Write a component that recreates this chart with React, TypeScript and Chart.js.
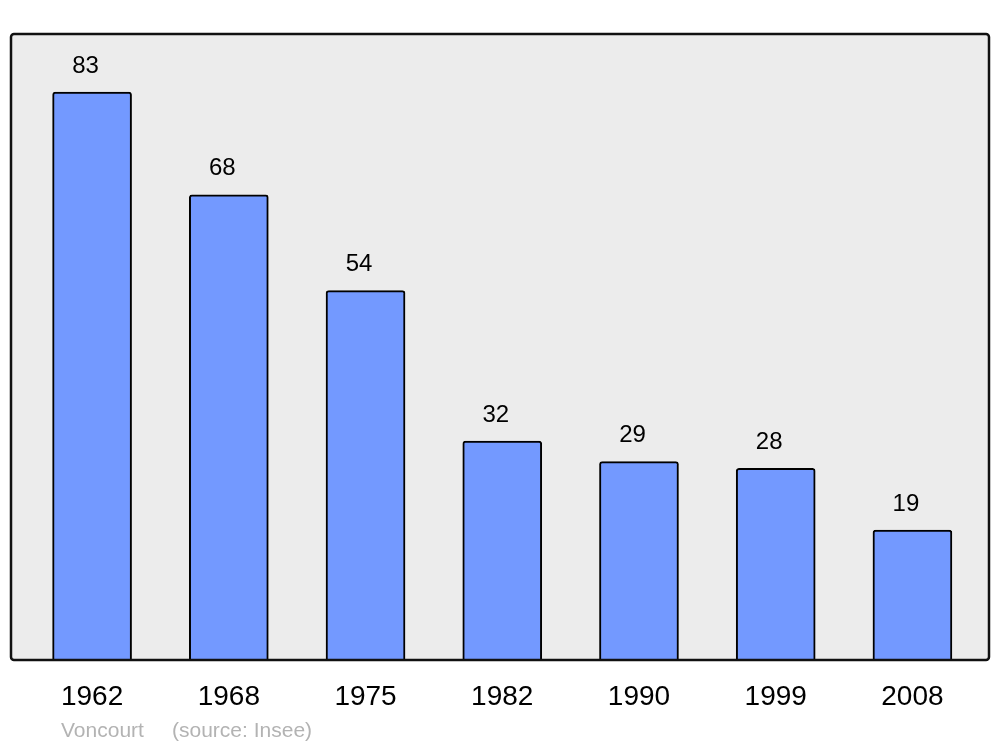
import React, { useEffect, useRef } from "react";
import { Chart, registerables } from "chart.js";

Chart.register(...registerables);

const years = ["1962", "1968", "1975", "1982", "1990", "1999", "2008"];
const population = [83, 68, 54, 32, 29, 28, 19];
const place = "Voncourt";
const source = "(source: Insee)";

const FONT = "'Liberation Sans', Arial, sans-serif";

const framePlugin = {
  id: "frame",
  beforeDatasetsDraw(chart: any) {
    const { ctx, chartArea: a } = chart;
    ctx.save();
    ctx.beginPath();
    ctx.roundRect(a.left, a.top, a.right - a.left, a.bottom - a.top, 3);
    ctx.fillStyle = "#ececec";
    ctx.fill();
    ctx.restore();
  },
  afterDatasetsDraw(chart: any) {
    const { ctx, chartArea: a } = chart;
    ctx.save();
    ctx.beginPath();
    ctx.roundRect(a.left, a.top, a.right - a.left, a.bottom - a.top, 3);
    ctx.lineWidth = 2.5;
    ctx.strokeStyle = "#111";
    ctx.stroke();
    const meta = chart.getDatasetMeta(0);
    ctx.fillStyle = "#000";
    ctx.font = `24px ${FONT}`;
    ctx.textAlign = "center";
    ctx.textBaseline = "alphabetic";
    meta.data.forEach((bar: any, i: number) => {
      ctx.fillText(String(population[i]), bar.x - 6.5, bar.y - 19.5);
    });
    ctx.fillStyle = "#b3b3b3";
    ctx.font = `21px ${FONT}`;
    ctx.textAlign = "left";
    ctx.fillText(place, 61, 737);
    ctx.fillText(source, 172, 737);
    ctx.restore();
  },
};

export default function App() {
  const ref = useRef<HTMLCanvasElement>(null);
  useEffect(() => {
    if (!ref.current) return;
    const chart = new Chart(ref.current, {
      type: "bar",
      data: {
        datasets: [
          {
            data: population.map((v, i) => ({ x: i, y: v })),
            backgroundColor: "#7399ff",
            borderColor: "#000",
            borderWidth: 2,
            borderRadius: { topLeft: 3, topRight: 3, bottomLeft: 0, bottomRight: 0 },
            borderSkipped: "bottom",
            barThickness: 79,
          },
        ],
      },
      options: {
        animation: false,
        responsive: false,
        maintainAspectRatio: false,
        layout: { padding: { left: 11, right: 11, top: 34, bottom: 0 } },
        plugins: { legend: { display: false }, tooltip: { enabled: false } },
        scales: {
          x: {
            type: "linear",
            offset: false,
            min: -0.593,
            max: 6.56,
            grid: { display: false, drawTicks: false },
            border: { display: false },
            afterBuildTicks: (s: any) => {
              s.ticks = years.map((_, i) => ({ value: i }));
            },
            afterFit: (s: any) => {
              s.height = 87;
            },
            ticks: {
              autoSkip: false,
              maxRotation: 0,
              padding: 20,
              color: "#000",
              font: { family: FONT, size: 28 },
              callback: (v: any) => years[Math.round(Number(v))] ?? "",
            },
          },
          y: {
            display: false,
            min: 0,
            max: 91.5,
          },
        },
      },
      plugins: [framePlugin],
    });
    return () => chart.destroy();
  }, []);
  return (
    <div style={{ position: "fixed", left: 0, top: 0, width: 1000, height: 747, background: "#fff" }}>
      <canvas ref={ref} width={1000} height={747} style={{ width: 1000, height: 747 }} />
    </div>
  );
}
